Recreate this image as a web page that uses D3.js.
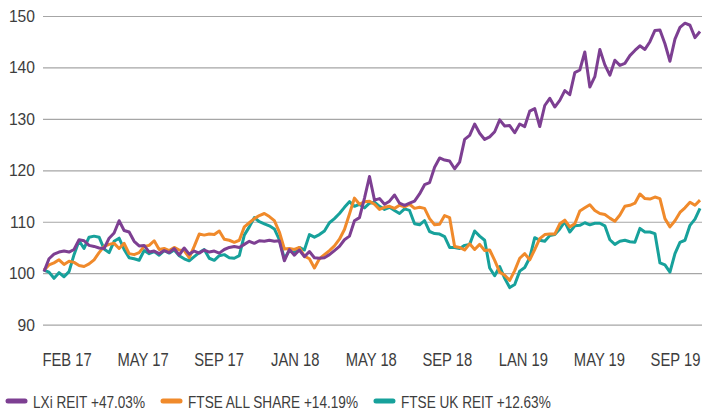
<!DOCTYPE html>
<html>
<head>
<meta charset="utf-8">
<script src="https://cdn.jsdelivr.net/npm/d3@7"></script>
<style>
  body { margin: 0; background: #fff; }
  svg text { font-family: "Liberation Sans", Arial, sans-serif; fill: #3d3d3d; }
</style>
</head>
<body>
<svg id="chart" width="702" height="412"></svg>
<script>
// index values, rebased to 100 at Feb 2017 (~weekly)
let lxi = [100.3, 102.8, 103.7, 104.1, 104.3, 104.1, 104.6, 106.5, 106.3, 105.4,
    105.2, 104.9, 104.8, 106.8, 107.8, 110.2, 108.3, 108.0, 106.2, 105.3,
    105.4, 104.1, 104.3, 103.8, 104.4, 104.0, 104.8, 103.5, 104.9, 103.7,
    104.3, 103.9, 104.5, 104.1, 104.3, 103.9, 104.6, 105.0, 105.2, 105.0,
    105.6, 106.2, 105.8, 106.3, 106.2, 106.4, 106.2, 106.3, 102.4, 104.6,
    103.5, 104.5, 103.2, 104.2, 103.0, 102.9, 103.0, 103.6, 104.4, 105.2,
    106.5, 107.2, 110.2, 110.8, 114.6, 118.8, 114.2, 114.5, 113.4, 114.0,
    115.2, 113.6, 113.2, 113.6, 114.0, 115.4, 117.2, 117.6, 120.6, 122.4,
    122.0, 121.8, 120.3, 121.6, 126.0, 126.8, 129.0, 127.2, 126.0, 126.5,
    127.5, 129.8, 128.6, 128.7, 127.3, 129.0, 128.5, 131.5, 132.0, 128.5,
    132.6, 134.0, 132.3, 133.6, 135.5, 134.7, 139.0, 139.5, 143.0, 136.2,
    138.2, 143.5, 140.5, 138.5, 141.4, 140.4, 140.8, 142.3, 143.3, 144.2,
    143.5, 145.0, 147.2, 147.3, 144.6, 141.2, 145.5, 147.8, 148.6, 148.2,
    145.8, 147.0];

let ftseAll = [100.6, 101.6, 102.0, 102.6, 101.7, 102.3, 102.1, 101.5, 101.3, 101.8,
    102.6, 104.0, 105.2, 105.6, 105.8, 104.8, 105.8, 103.8, 103.6, 104.0,
    105.2, 105.4, 106.3, 104.6, 104.8, 104.4, 105.0, 104.5, 104.4, 103.0,
    105.2, 107.6, 107.4, 107.6, 107.5, 108.2, 106.6, 106.4, 106.0, 106.4,
    109.0, 109.8, 110.6, 111.2, 111.6, 111.0, 110.2, 108.0, 104.7, 104.8,
    104.6, 105.0, 103.3, 102.8, 101.0, 102.8, 103.6, 104.4, 105.3, 106.6,
    108.5, 111.5, 114.6, 113.4, 113.9, 114.0, 113.4, 112.4, 112.8, 113.0,
    112.6, 113.2, 112.9, 113.4, 112.6, 112.8, 112.6, 110.6, 109.4, 109.5,
    111.2, 110.8, 105.2, 105.0, 104.5, 105.7, 104.6, 105.6, 104.4, 104.5,
    102.5, 100.2, 99.6, 98.6, 100.5, 102.9, 103.8, 102.6, 104.6, 106.7,
    107.5, 107.6, 107.6, 109.6, 110.3, 109.0, 109.6, 112.1, 112.7, 113.3,
    112.2, 111.6, 111.4, 110.7, 110.1, 111.3, 113.0, 113.2, 113.6, 115.4,
    114.5, 114.4, 114.8, 114.5, 110.6, 109.0, 110.2, 111.8, 112.7, 113.8,
    113.2, 114.2];

let ftseReit = [100.6, 100.2, 99.0, 100.1, 99.3, 100.3, 103.6, 106.3, 104.8, 107.0,
    107.2, 107.0, 104.7, 104.0, 106.2, 106.8, 104.6, 103.0, 102.8, 102.5,
    104.4, 103.8, 104.2, 103.5, 104.4, 103.9, 104.5, 103.4, 102.8, 102.4,
    103.2, 104.0, 104.6, 102.9, 102.5, 103.4, 103.6, 103.0, 102.9, 103.4,
    107.4, 109.0, 110.8, 110.0, 109.6, 109.2, 108.6, 106.5, 102.8, 104.4,
    103.9, 105.0, 104.5, 107.5, 107.0, 107.5, 108.2, 109.8, 110.6, 111.6,
    112.8, 113.9, 113.0, 113.4, 112.7, 113.6, 113.8, 113.0, 112.4, 112.8,
    112.2, 111.6, 112.5, 112.2, 109.6, 109.4, 110.2, 108.1, 107.7, 107.6,
    107.1, 105.0, 105.0, 104.8, 105.4, 105.6, 108.2, 107.2, 106.4, 101.0,
    99.5, 101.3, 99.0, 97.2, 97.8, 100.4, 101.1, 103.0, 106.9, 106.4,
    106.2, 107.3, 107.5, 108.6, 110.0, 108.0, 109.2, 109.3, 109.8, 109.4,
    109.7, 109.7, 109.2, 106.5, 105.6, 106.2, 106.4, 106.1, 106.0, 108.7,
    108.0, 108.0, 107.7, 102.0, 101.6, 100.2, 103.8, 106.0, 106.4, 109.3,
    110.5, 112.6];

let monthLabels = ["FEB 17", "MAY 17", "SEP 17", "JAN 18", "MAY 18", "SEP 18", "LAN 19", "MAY 19", "SEP 19"];
let yTicks = [90, 100, 110, 120, 130, 140, 150];

let seriesNames = ["LXi REIT +47.03%", "FTSE ALL SHARE +14.19%", "FTSE UK REIT +12.63%"];
let seriesColors = ["#7d3f92", "#f08a2b", "#17a19b"];

let chart = d3.select("#chart");
let left = 43, right = 702;

// no narrow font installed, so squeeze the regular one sideways
function squeeze(sel, k) {
    sel.each(function() {
        let w = this.getComputedTextLength();
        d3.select(this).attr("textLength", w * k).attr("lengthAdjust", "spacingAndGlyphs");
    });
}

let x = d3.scaleLinear()
    .domain([0, lxi.length - 1])
    .range([44, 700]);

let y = d3.scaleLinear()
    .domain([90, 150])
    .range([324.6, 16]);

// labels sit evenly under the plot, not on real dates
let xLabel = d3.scalePoint()
    .domain(monthLabels)
    .range([66.5, 675]);

// gridlines + y labels
let yAxis = chart.append("g")
    .attr("transform", "translate(" + left + ",0)")
    .call(d3.axisLeft(y).tickValues(yTicks).tickSizeInner(-(right - left)).tickSizeOuter(0).tickPadding(8));
yAxis.select(".domain").remove();
yAxis.selectAll("line").attr("stroke", "#a6a6a6").attr("stroke-width", 1.2);
yAxis.selectAll("text").style("font-size", "17px").call(squeeze, 0.92);

let xAxis = chart.append("g")
    .attr("transform", "translate(0,340)")
    .call(d3.axisBottom(xLabel).tickSize(0).tickPadding(13));
xAxis.select(".domain").remove();
xAxis.selectAll("text").style("font-size", "18px").call(squeeze, 0.82);

// lines, teal first so purple ends on top
let line = d3.line()
    .x(function(d, i) { return x(i); })
    .y(function(d) { return y(d); });

let series = [ftseReit, ftseAll, lxi];
let order = [2, 1, 0];

chart.selectAll(".series")
    .data(series)
    .enter()
    .append("path")
    .attr("class", "series")
    .attr("d", line)
    .attr("fill", "none")
    .attr("stroke", function(d, i) { return seriesColors[order[i]]; })
    .attr("stroke-width", 3)
    .attr("stroke-linejoin", "round");

// legend
let lx = 6;
seriesNames.forEach(function(name, i) {
    chart.append("line")
        .attr("x1", lx + 2).attr("x2", lx + 19)
        .attr("y1", 401).attr("y2", 401)
        .attr("stroke", seriesColors[i])
        .attr("stroke-width", 5)
        .attr("stroke-linecap", "round");
    let t = chart.append("text")
        .attr("x", lx + 27)
        .attr("y", 408)
        .style("font-size", "17px")
        .text(name)
        .call(squeeze, 0.8);
    lx = lx + 27 + +t.attr("textLength") + 16;
});
</script>
</body>
</html>
